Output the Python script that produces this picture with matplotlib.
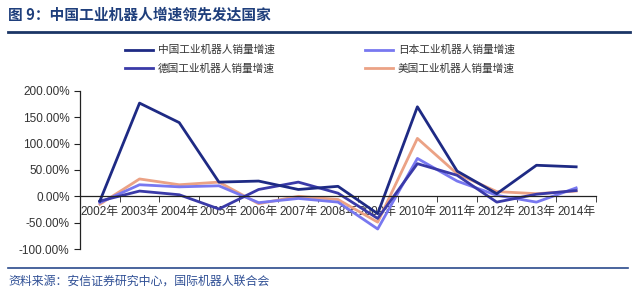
import matplotlib
matplotlib.use('Agg')
import matplotlib.pyplot as plt
from matplotlib.lines import Line2D
from matplotlib.ticker import FuncFormatter, FixedLocator
import numpy as np

plt.rcParams['font.family'] = ['Liberation Sans', 'Noto Sans CJK SC']

years = ['2002年', '2003年', '2004年', '2005年', '2006年', '2007年', '2008年',
         '2009年', '2010年', '2011年', '2012年', '2013年', '2014年']
china = [-9, 177, 140, 27, 29, 13, 19, -33, 170, 48, 5, 59, 56]
japan = [-12, 22, 18, 20, -12, -4, -11, -62, 72, 29, 2, -11, 16]
germany = [-9, 10, 3, -24, 13, 27, 6, -42, 62, 40, -11, 4, 11]
usa = [-15, 33, 22, 27, -14, 0, -6, -49, 110, 43, 9, 5, 10]

names = ['中国工业机器人销量增速', '德国工业机器人销量增速',
         '日本工业机器人销量增速', '美国工业机器人销量增速']
colors = ['#1e2a84', '#3a3aa8', '#7878f0', '#eba285']

fig = plt.figure(figsize=(6.4, 2.92), dpi=100)
ax = fig.add_axes([80/640, 1 - 249/292, 516/640, 158/292])
ax.set_axisbelow(True)

x = np.arange(len(years))
ax.plot(x, usa, color=colors[3], lw=2.0)
ax.plot(x, japan, color=colors[2], lw=2.0)
ax.plot(x, germany, color=colors[1], lw=2.0)
ax.plot(x, china, color=colors[0], lw=2.0)

ax.set_xlim(-0.5, len(years) - 0.5)
ax.set_ylim(-100, 200)
ax.set_yticks(np.arange(-100, 201, 50))
ax.yaxis.set_major_formatter(FuncFormatter(lambda v, p: f'{v:.2f}%'))

ax.spines['top'].set_visible(False)
ax.spines['right'].set_visible(False)
ax.spines['bottom'].set_position(('data', 0))
for s in ['left', 'bottom']:
    ax.spines[s].set_color('#222222')
    ax.spines[s].set_linewidth(0.9)

ax.set_xticks(x)
ax.set_xticklabels(years)
ax.xaxis.set_minor_locator(FixedLocator(np.arange(-0.5, len(years), 1)))
ax.tick_params(axis='x', which='major', length=0, pad=7, labelsize=8.5, labelcolor='#333333')
ax.tick_params(axis='x', which='minor', length=4, direction='out', color='#222222')
ax.tick_params(axis='y', length=4, direction='out', labelsize=8.5, labelcolor='#333333', color='#222222')

handles = [Line2D([], [], color=c, lw=2.0) for c in colors]
fig.legend(handles, names, loc='upper left', bbox_to_anchor=(125/640, 1 - 45/292),
           ncol=2, frameon=False, fontsize=7.7, handlelength=2.6, handletextpad=0.5,
           columnspacing=8.4, labelspacing=0.75, borderpad=0, borderaxespad=0,
           labelcolor='#333333')

fig.text(8/640, 1 - 15/292, '图 9：中国工业机器人增速领先发达国家', fontsize=10.6,
         fontweight='bold', color='#1f3f7c', va='center', ha='left',
         family=['Noto Sans CJK SC', 'DejaVu Sans'])
fig.add_artist(Line2D([8/640, 630/640], [1 - 31.5/292, 1 - 31.5/292],
                      color='#1b3566', lw=2.0, transform=fig.transFigure))
fig.add_artist(Line2D([8/640, 628/640], [1 - 268/292, 1 - 268/292],
                      color='#2a4a8c', lw=1.2, transform=fig.transFigure))
fig.text(8/640, 1 - 281/292, '资料来源：安信证券研究中心，国际机器人联合会', fontsize=8.6,
         color='#2f4f95', va='center', ha='left', style='italic',
         family=['Noto Sans CJK SC', 'DejaVu Sans'])

fig.savefig('out.png', dpi=100)
